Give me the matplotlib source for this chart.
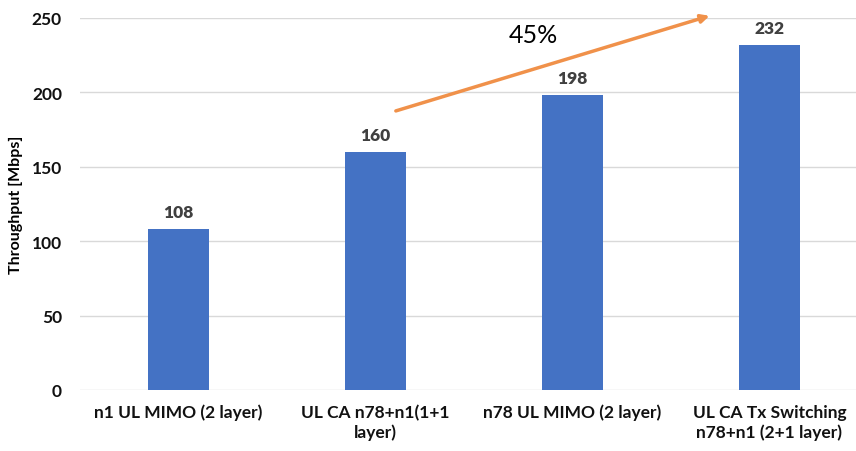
import matplotlib.pyplot as plt
import numpy as np

plt.rcParams['font.family'] = ['Lato', 'DejaVu Sans']

# Throughput per uplink configuration
configs = ['n1 UL MIMO (2 layer)', 'UL CA n78+n1(1+1\nlayer)',
           'n78 UL MIMO (2 layer)', 'UL CA Tx Switching\nn78+n1 (2+1 layer)']
throughput = [108, 160, 198, 232]
yticks = [0, 50, 100, 150, 200, 250]

x = np.arange(len(configs))

fig = plt.figure(figsize=(8.56, 4.52), dpi=100)
ax = fig.add_axes([0.0935, 0.135, 0.9065, 0.823])

ax.bar(x, throughput, width=0.31, color='#4472C4', zorder=3)
for xi, v in zip(x, throughput):
    ax.text(xi, v + 6, str(v), ha='center', va='bottom', fontsize=12.5,
            fontweight='heavy', color='#404040')

ax.set_xlim(-0.5, 3.44)
ax.set_ylim(0, 250)
ax.set_yticks(yticks)
ax.set_xticks(x)
ax.set_xticklabels(configs, fontsize=12.5, fontweight='bold', color='#111111',
                   linespacing=1.25)
for lbl in ax.get_yticklabels():
    lbl.set_fontweight('bold')
    lbl.set_fontsize(12.5)
    lbl.set_color('#111111')
ax.tick_params(length=0, pad=10)
ax.tick_params(axis='y', pad=13)
ax.grid(axis='y', color='#d9d9d9', linewidth=1, zorder=0)
for s in ax.spines.values():
    s.set_visible(False)
ax.set_ylabel('Throughput [Mbps]', fontsize=11.5, fontweight='bold', labelpad=6)

# Growth arrow from the CA bar up to the Tx switching bar
ax.annotate('', xy=(2.71, 252), xytext=(1.09, 187),
            arrowprops=dict(arrowstyle='-|>', color='#F0914A', lw=2.5,
                            mutation_scale=12),
            annotation_clip=False, zorder=5)
ax.text(1.80, 239, '45%', ha='center', va='center', fontsize=18, color='black')

fig.savefig('out.png', dpi=100)
